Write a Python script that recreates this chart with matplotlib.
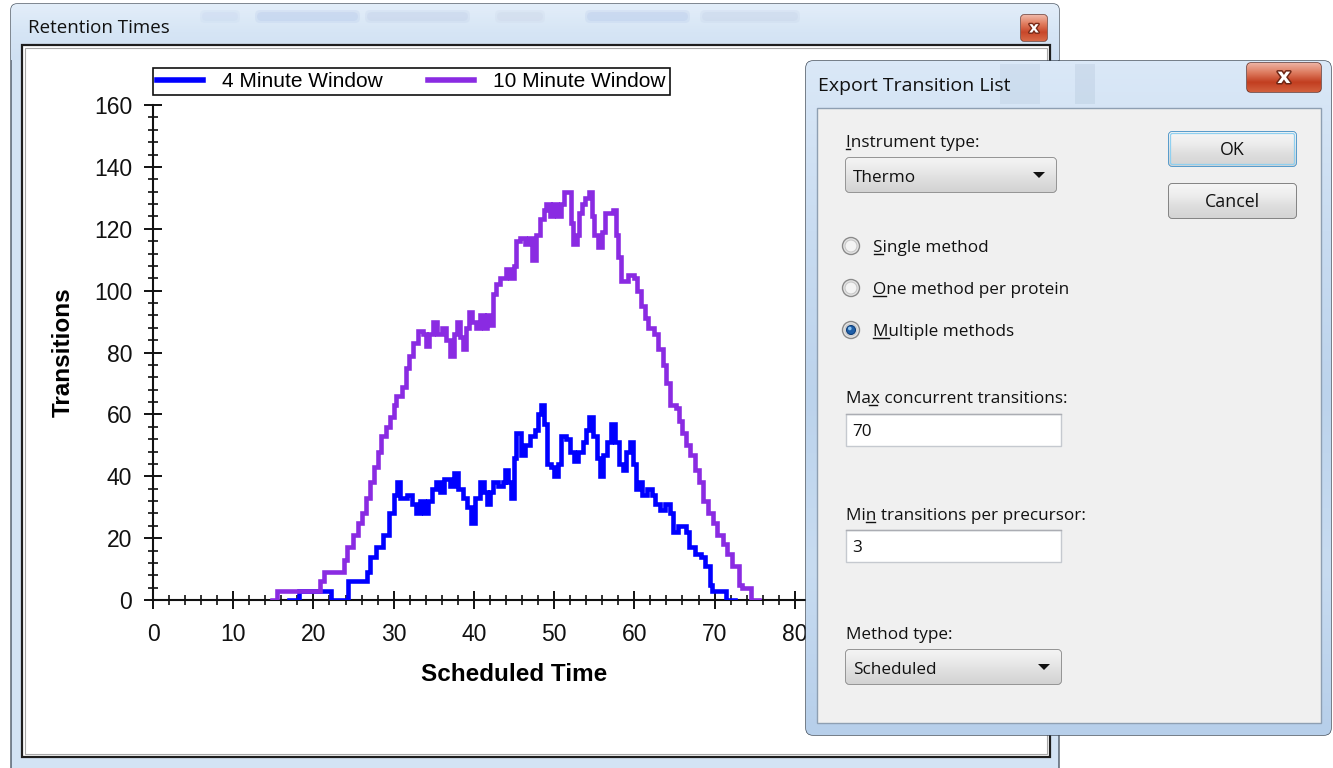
import numpy as np
import matplotlib
matplotlib.use("Agg")
import matplotlib.pyplot as plt
from matplotlib.patches import Rectangle, FancyBboxPatch, Circle, Polygon
from matplotlib.colors import LinearSegmentedColormap
import matplotlib.patheffects as pe

# ---------------- data ----------------
series_names = ["4 Minute Window", "10 Minute Window"]
series_colors = ["#0000FF", "#8A2BE2"]

time_4min = [17.0, 18.2, 22.2, 24.3, 26.7, 27.1, 27.8, 28.7, 29.4, 30.0, 30.4, 30.8,
             31.7, 32.3, 32.8, 33.3, 33.8, 34.3, 34.8, 35.3, 35.8, 36.3, 37.0, 37.5,
             38.0, 38.6, 39.2, 39.7, 40.2, 40.7, 41.2, 41.6, 42.0, 42.4, 43.0, 43.6,
             43.9, 44.3, 44.6, 45.0, 45.3, 45.9, 46.4, 47.0, 47.6, 48.0, 48.4, 48.8,
             49.1, 49.6, 50.0, 50.5, 50.9, 51.5, 52.0, 52.5, 53.0, 53.6, 54.0, 54.4,
             54.9, 55.3, 55.7, 56.1, 56.6, 57.1, 57.6, 58.1, 58.6, 59.0, 59.4, 59.8,
             60.2, 60.6, 61.0, 61.6, 62.2, 62.6, 63.2, 63.8, 64.4, 64.8, 65.5, 66.4,
             66.8, 67.5, 68.3, 68.8, 69.4, 69.7, 71.4, 72.5]
trans_4min = [0, 3, 0, 6, 9, 14, 17, 21, 28, 34, 38, 33,
              34, 31, 28, 32, 28, 32, 36, 38, 35, 39, 37, 41,
              36, 33, 30, 25, 33, 38, 35, 31, 35, 38, 37, 38,
              42, 38, 33, 46, 54, 47, 50, 53, 55, 60, 63, 57,
              44, 43, 40, 44, 53, 52, 48, 45, 48, 51, 55, 59,
              53, 46, 40, 47, 51, 57, 51, 44, 42, 48, 51, 44,
              36, 38, 34, 36, 34, 31, 29, 31, 28, 22, 24, 22,
              17, 15, 14, 11, 5, 3, 0, 0]

time_10min = [14.8, 15.4, 20.8, 21.3, 23.8, 24.2, 24.9, 25.5, 26.0, 26.6, 27.1, 27.5,
              28.0, 28.4, 29.0, 29.5, 30.0, 30.3, 31.0, 31.5, 31.9, 32.4, 33.0, 33.6,
              34.0, 34.4, 34.9, 35.4, 36.0, 36.5, 37.0, 37.5, 37.9, 38.3, 38.7, 39.0,
              39.4, 39.8, 40.3, 40.8, 41.2, 41.6, 42.0, 42.4, 42.8, 43.3, 44.0, 44.5,
              45.0, 45.3, 45.8, 46.4, 46.9, 47.3, 47.8, 48.3, 48.7, 49.0, 49.5, 49.9,
              50.3, 50.8, 51.2, 51.8, 52.1, 52.3, 52.8, 53.1, 53.5, 53.9, 54.3, 54.7,
              55.0, 55.5, 56.0, 56.4, 56.9, 57.3, 57.7, 58.0, 58.4, 59.2, 59.9, 60.3,
              60.8, 61.3, 61.7, 62.5, 63.0, 63.6, 64.0, 64.4, 65.2, 65.6, 66.0, 66.5,
              67.0, 67.6, 68.1, 68.5, 69.2, 69.8, 70.3, 71.0, 71.5, 72.2, 73.0, 73.4,
              74.6, 75.5]
trans_10min = [0, 3, 6, 9, 13, 17, 21, 25, 28, 33, 38, 43,
               48, 53, 56, 59, 63, 66, 69, 75, 79, 83, 87, 86,
               82, 86, 90, 86, 88, 84, 79, 86, 90, 85, 81, 88,
               93, 90, 88, 92, 88, 92, 89, 99, 102, 104, 107, 104,
               108, 116, 117, 115, 117, 110, 118, 123, 126, 128, 124, 128,
               124, 128, 132, 132, 122, 115, 118, 125, 128, 130, 132, 124,
               118, 114, 119, 125, 125, 126, 118, 111, 103, 105, 104, 100,
               95, 91, 88, 86, 81, 76, 70, 63, 62, 58, 54, 50,
               47, 42, 38, 32, 28, 25, 21, 18, 15, 11, 5, 4,
               0, 0]

x_ticks = [0, 10, 20, 30, 40, 50, 60, 70, 80, 90]
x_tick_labels = ["0", "10", "20", "30", "40", "50", "60", "70", "80", ""]
y_ticks = [0, 20, 40, 60, 80, 100, 120, 140, 160]

W, H = 1333, 768
fig = plt.figure(figsize=(W / 100, H / 100), dpi=100, facecolor="white")

UI = ["Open Sans", "DejaVu Sans"]
ARIAL = ["Liberation Sans", "DejaVu Sans"]


def px_axes(z):
    a = fig.add_axes([0, 0, 1, 1], zorder=z)
    a.set_facecolor("none")
    a.set_xlim(0, W)
    a.set_ylim(H, 0)
    a.axis("off")
    return a


def grad(a, x0, y0, x1, y1, colors, z, clip=None):
    arr = np.linspace(0, 1, 128)[:, None]
    cmap = LinearSegmentedColormap.from_list("g", colors)
    im = a.imshow(arr, cmap=cmap, extent=(x0, x1, y1, y0), aspect="auto",
                  zorder=z, interpolation="bilinear", origin="upper")
    if clip is not None:
        im.set_clip_path(clip)
    return im


def rbox(a, x0, y0, x1, y1, r, fc, ec, lw, z):
    p = FancyBboxPatch((x0, y0), x1 - x0, y1 - y0,
                       boxstyle=f"round,pad=0,rounding_size={r}",
                       fc=fc, ec=ec, lw=lw, zorder=z)
    a.add_patch(p)
    return p


# ---------------- background window ----------------
bg = px_axes(0)
frame = rbox(bg, 11, 4, 1059, 790, 6, "#D3E3F4", "#4B5663", 1.0, 1)
grad(bg, 11, 4, 1059, 60, ["#E3EEF9", "#D6E5F5", "#CFE0F2"], 1.5, clip=frame)
# faint blurred shapes seen through the glass title bar
for (x0, x1, c) in [(200, 240, "#C3D2EC"), (255, 360, "#A9BDE6"),
                    (365, 470, "#B7C6E3"), (495, 545, "#C6D0E5"), (585, 690, "#A9BDE6"),
                    (700, 800, "#BCC9E3")]:
    for k, al in [(0, 0.18), (2, 0.22)]:
        bg.add_patch(FancyBboxPatch((x0 + k, 10 + k), x1 - x0 - 2 * k, 13 - 2 * k,
                                    boxstyle="round,pad=0,rounding_size=5",
                                    fc=c, ec="none", alpha=al, zorder=1.6))
bg.add_patch(Rectangle((22, 45), 1028, 712, fc="white", ec="#1E1E1E", lw=1.6, zorder=2))
bg.add_patch(Rectangle((25, 48), 1022, 706, fc="none", ec="#A8A8A8", lw=0.8, zorder=2.1))
bg.text(28, 28, "Retention Times", fontsize=13.5, family=UI, va="center", ha="left",
        color="#111111", zorder=3)
cb = rbox(bg, 1021, 15, 1047, 41, 3, "#D9694A", "#6A3022", 1.0, 3)
grad(bg, 1021, 15, 1047, 41, ["#F0B8A8", "#E07C5E", "#C8472A", "#D86A48"], 3.1, clip=cb)
bg.text(1034, 28, "x", fontsize=11, fontweight="bold", family=["DejaVu Sans"], color="white",
        ha="center", va="center", zorder=3.2,
        path_effects=[pe.withStroke(linewidth=2, foreground="#7A2A18")])

# ---------------- chart ----------------
ax = fig.add_axes([153 / W, 1 - 600 / H, (875 - 153) / W, (600 - 105) / H], zorder=1)
ax.set_facecolor("none")
for name, col, t, v in [(series_names[0], series_colors[0], time_4min, trans_4min),
                        (series_names[1], series_colors[1], time_10min, trans_10min)]:
    ax.plot(t, v, drawstyle="steps-post", color=col, lw=3.3, label=name,
            solid_joinstyle="miter", zorder=3)

ax.set_xlim(0, 90)
ax.set_ylim(0, 160)
ax.set_xticks(x_ticks)
ax.set_xticklabels(x_tick_labels)
ax.set_yticks(y_ticks)
ax.set_xticks(np.arange(0, 91, 2), minor=True)
ax.set_yticks(np.arange(0, 161, 4), minor=True)
for s in ["top", "right"]:
    ax.spines[s].set_visible(False)
for s in ["left", "bottom"]:
    ax.spines[s].set_linewidth(1.5)
    ax.spines[s].set_color("#111111")
ax.tick_params(which="major", direction="inout", length=13, width=1.4, color="#111111",
               labelsize=16.5)
ax.tick_params(which="minor", direction="inout", length=7, width=1.2, color="#111111")
ax.tick_params(axis="y", which="major", pad=8.5)
ax.tick_params(axis="x", which="major", pad=10)
for lab in ax.get_xticklabels() + ax.get_yticklabels():
    lab.set_family(ARIAL)
    lab.set_color("#111111")
ax.set_xlabel("Scheduled Time", fontsize=17.5, fontweight="bold", family=ARIAL, labelpad=12)
ax.set_ylabel("Transitions", fontsize=17.5, fontweight="bold", family=ARIAL, labelpad=14)

leg = ax.legend(loc="upper left", bbox_to_anchor=(153 / W, 1 - 68 / H),
                bbox_transform=fig.transFigure, ncol=2, frameon=True, fancybox=False,
                edgecolor="#111111", framealpha=1, borderaxespad=0, borderpad=0.2,
                handlelength=2.2, handletextpad=0.9, columnspacing=2.2,
                prop={"family": ARIAL, "size": 15})
leg.get_frame().set_linewidth(1.2)
for ln in leg.get_lines():
    ln.set_linewidth(4)

# ---------------- dialog ----------------
fg = px_axes(5)
dlg = rbox(fg, 806, 61, 1331, 735, 7, "#C4D9EF", "#3D4957", 1.0, 1)
grad(fg, 806, 61, 1331, 735, ["#DAE8F7", "#C9DCF1", "#BCD3EC", "#C8DCF1", "#B7CFEA"], 1.1, clip=dlg)
for (x0, x1, c) in [(1000, 1040, "#A9BDD3"), (1075, 1095, "#9FB3CA")]:
    fg.add_patch(Rectangle((x0, 64), x1 - x0, 40, fc=c, ec="none", alpha=0.22, zorder=1.2))
fg.add_patch(Rectangle((817, 108), 504, 615, fc="#F0F0F0", ec="#8E9FB2", lw=1.0, zorder=2))
fg.text(818, 86, "Export Transition List", fontsize=14, family=UI, va="center",
        ha="left", color="#111111", zorder=3)
dcb = rbox(fg, 1247, 63, 1321, 92, 4, "#D0573A", "#5E2A20", 1.0, 3)
grad(fg, 1247, 63, 1321, 92, ["#EDB3A3", "#DD7A5E", "#C23E20", "#D2603E"], 3.1, clip=dcb)
fg.text(1284, 77, "x", fontsize=15, fontweight="bold", family=["DejaVu Sans"], color="white",
        ha="center", va="center", zorder=3.2,
        path_effects=[pe.withStroke(linewidth=2.2, foreground="#6E2716")])

LBL = dict(fontsize=12.3, family=UI, va="baseline", ha="left", color="#111111", zorder=4)


def label(x, yc, txt, ul=None):
    # yc: visual centre of the text line in pixels
    base = yc + 6
    fg.text(x, base, txt, **LBL)
    if ul is not None:
        fg.plot([ul[0], ul[1]], [base + 2, base + 2], color="#111111", lw=1.0, zorder=4.1)


label(846, 141, "Instrument type:", ul=(846, 850))


def combo(x0, y0, x1, y1, txt):
    p = rbox(fg, x0, y0, x1, y1, 3, "#E8E8E8", "#707070", 1.0, 3)
    grad(fg, x0, y0, x1, y1, ["#F4F4F4", "#EAEAEA", "#DDDDDD", "#D2D2D2"], 3.1, clip=p)
    label(x0 + 7, (y0 + y1) / 2 + 1, txt)
    cx, cy = x1 - 17, (y0 + y1) / 2
    fg.add_patch(Polygon([[cx - 6, cy - 3], [cx + 6, cy - 3], [cx, cy + 3]],
                         closed=True, fc="#111111", ec="none", zorder=4))


def textbox(x0, y0, x1, y1, txt):
    fg.add_patch(Rectangle((x0, y0), x1 - x0, y1 - y0, fc="white", ec="#C5C9CF", lw=1.0, zorder=3))
    fg.plot([x0, x1], [y0, y0], color="#ABADB3", lw=1.0, zorder=3.1)
    label(x0 + 6, (y0 + y1) / 2, txt)


def button(x0, y0, x1, y1, txt, ec):
    p = rbox(fg, x0, y0, x1, y1, 3, "#E5E5E5", ec, 1.2, 3)
    grad(fg, x0, y0, x1, y1, ["#F6F6F6", "#EDEDED", "#DDDDDD", "#D4D4D4"], 3.1, clip=p)
    fg.text((x0 + x1) / 2, (y0 + y1) / 2 + 6, txt, fontsize=12.8, family=UI, ha="center",
            va="baseline", color="#111111", zorder=4)


def radio(cx, cy, txt, ul, sel=False):
    fg.add_patch(Circle((cx, cy), 8.5, fc="#E6E6E6", ec="#8A8A8A", lw=1.0, zorder=3))
    fg.add_patch(Circle((cx, cy), 6, fc="#F4F4F4", ec="#C8C8C8", lw=0.8, zorder=3.1))
    if sel:
        fg.add_patch(Circle((cx, cy), 4.5, fc="#1F5FA8", ec="#0E3E78", lw=0.8, zorder=3.2))
        fg.add_patch(Circle((cx - 1.2, cy - 1.5), 1.8, fc="#8CC3F0", ec="none", zorder=3.3))
    label(cx + 22, cy, txt, ul=ul)


combo(846, 158, 1056, 192, "Thermo")
button(1169, 132, 1296, 166, "OK", "#3C8CC4")
fg.add_patch(FancyBboxPatch((1170.5, 133.5), 124, 31, boxstyle="round,pad=0,rounding_size=2",
                            fc="none", ec="#8FD0F0", lw=0.9, zorder=3.5))
button(1169, 184, 1296, 218, "Cancel", "#707070")

radio(851, 246, "Single method", (874, 883))
radio(851, 288, "One method per protein", (873, 886))
radio(851, 330, "Multiple methods", (873, 889), sel=True)

label(846, 397, "Max concurrent transitions:", ul=(869, 877))
textbox(846, 414, 1061, 446, "70")

label(846, 514, "Min transitions per precursor:", ul=(866, 875))
textbox(846, 530, 1061, 562, "3")

label(846, 633, "Method type:")
combo(846, 650, 1061, 684, "Scheduled")

for a in (bg, fg):
    a.set_xlim(0, W)
    a.set_ylim(H, 0)

fig.savefig("out.png", dpi=100, facecolor="white")
